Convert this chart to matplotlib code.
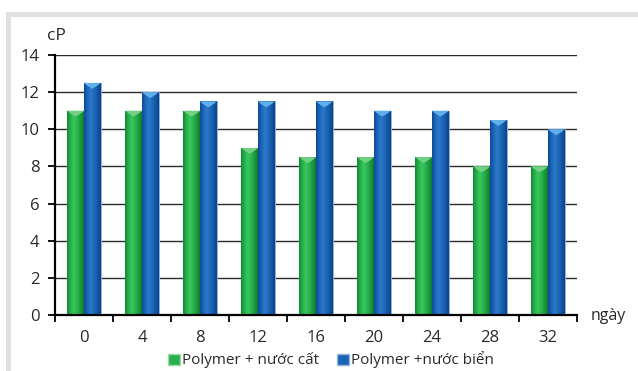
import matplotlib
matplotlib.use("Agg")
import matplotlib.pyplot as plt
import numpy as np
from matplotlib.colors import LinearSegmentedColormap
from matplotlib.patches import Rectangle, Polygon

# Data
days = ["0", "4", "8", "12", "16", "20", "24", "28", "32"]
distilled = [11, 11, 11, 9, 8.5, 8.5, 8.5, 8, 8]
seawater = [12.5, 12, 11.5, 11.5, 11.5, 11, 11, 10.5, 10]
series_names = ["Polymer + nước cất", "Polymer +nước biển"]
y_ticks = [0, 2, 4, 6, 8, 10, 12, 14]

plt.rcParams['font.family'] = ['Open Sans', 'DejaVu Sans']

W, H = 638, 371
fig = plt.figure(figsize=(W / 100, H / 100), dpi=100)
fig.patch.set_facecolor("white")

# light gray frame (top and left bands)
band = "#e0e0e0"
fig.patches.append(Rectangle((6 / W, 0), 5 / W, 1 - 12 / H, transform=fig.transFigure,
                             facecolor=band, edgecolor="none", zorder=0))
fig.patches.append(Rectangle((6 / W, 1 - 17 / H), 1 - 6 / W, 5 / H, transform=fig.transFigure,
                             facecolor=band, edgecolor="none", zorder=0))

ax = fig.add_axes([55 / W, 1 - 315 / H, 522 / W, 260 / H])
ax.set_facecolor("none")

x = np.arange(len(days))
bw = 0.287

green_cmap = LinearSegmentedColormap.from_list(
    "g", ["#138a35", "#24b04b", "#3cc75e", "#2ab550", "#1c9c40", "#107a2e"])
blue_cmap = LinearSegmentedColormap.from_list(
    "b", ["#0c4a96", "#1d66b9", "#2c79ca", "#2069ba", "#1658a6", "#0c4288"])

def shade_bars(bars, cmap, cap_color, edge_color):
    grad = np.linspace(0, 1, 64).reshape(1, -1)
    for b in bars:
        x0, w, h = b.get_x(), b.get_width(), b.get_height()
        im = ax.imshow(grad, cmap=cmap, extent=(x0, x0 + w, 0, h),
                       aspect="auto", zorder=3, interpolation="bilinear")
        im.set_clip_path(b)
        b.set_edgecolor(edge_color)
        # light chevron on the top face
        tri = Polygon([(x0, h), (x0 + w, h), (x0 + w * 0.85, h - 0.12),
                       (x0 + w / 2, h - 0.32), (x0 + w * 0.15, h - 0.12)],
                      closed=True, facecolor=cap_color, edgecolor="none", zorder=4)
        ax.add_patch(tri)

b1 = ax.bar(x - bw / 2, distilled, bw, color="#27b04c", zorder=2, linewidth=0.6)
b2 = ax.bar(x + bw / 2, seawater, bw, color="#1c63b6", zorder=2, linewidth=0.6)
shade_bars(b1, green_cmap, "#72cf83", "#9fd8aa")
shade_bars(b2, blue_cmap, "#5fb0ea", "#8fb6dd")

ax.set_xlim(-0.5, len(days) - 0.5)
ax.set_ylim(0, 14)

# gridlines
ax.set_yticks(y_ticks)
ax.yaxis.grid(True, color="#2a2a2a", linewidth=1.0, zorder=1)
ax.set_axisbelow(True)

# category boundaries as tick marks, labels at centers
ax.set_xticks(np.arange(-0.5, len(days)))
ax.set_xticklabels([])
ax.set_xticks(x, minor=True)
ax.set_xticklabels(days, minor=True)
ax.tick_params(axis="x", which="major", direction="out", length=5, width=1.3, color="black")
ax.tick_params(axis="x", which="minor", length=0, pad=11, labelsize=12, labelcolor="#2a2a2a")
ax.tick_params(axis="y", direction="out", length=5, width=1.3, pad=6, labelsize=12,
               labelcolor="#2a2a2a")

for s in ["top", "right"]:
    ax.spines[s].set_visible(False)
for s in ["left", "bottom"]:
    ax.spines[s].set_linewidth(1.6)
    ax.spines[s].set_color("black")
    ax.spines[s].set_zorder(5)

fig.text(56 / W, 1 - 36 / H, "cP", ha="center", va="center", fontsize=12.5, color="#2a2a2a")
fig.text(591 / W, 1 - 316 / H, "ngày", ha="left", va="center", fontsize=11.5, color="#2a2a2a")

handles = [Rectangle((0, 0), 1, 1, facecolor="#27b04c", edgecolor="#9fd8aa"),
           Rectangle((0, 0), 1, 1, facecolor="#1c63b6", edgecolor="#8fb6dd")]
fig.legend(handles, series_names, loc="center", bbox_to_anchor=(331 / W, 1 - 360 / H),
           ncol=2, frameon=False, fontsize=11, handlelength=0.75, handleheight=0.75,
           handletextpad=0.15, columnspacing=1.2, labelcolor="#2a2a2a")

fig.savefig("out.png", dpi=100, facecolor="white")
